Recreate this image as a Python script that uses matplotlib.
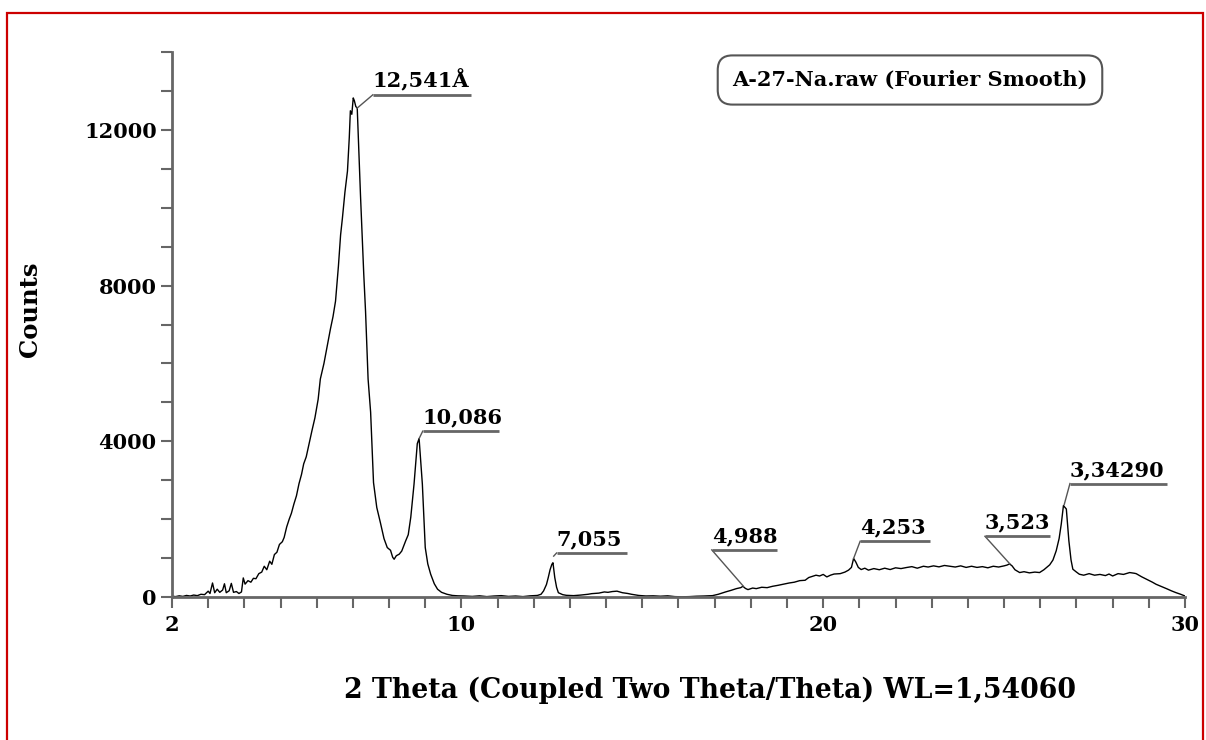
import matplotlib
matplotlib.use("Agg")
import matplotlib.pyplot as plt
from matplotlib.patches import Rectangle

# difractograma (2theta, contagens)
two_theta = [2.0, 2.1, 2.2, 2.3, 2.4, 2.5, 2.6, 2.7, 2.8, 2.9, 3.0, 3.05, 3.12, 3.18, 3.25,
             3.32, 3.4, 3.45, 3.5, 3.58, 3.64, 3.7, 3.78, 3.85, 3.92, 3.97, 4.02, 4.1, 4.18,
             4.25, 4.32, 4.4, 4.48, 4.55, 4.62, 4.7, 4.76, 4.83, 4.9, 4.97, 5.05, 5.1, 5.17,
             5.24, 5.3, 5.37, 5.44, 5.51, 5.58, 5.64, 5.71, 5.78, 5.87, 5.95, 6.04, 6.1, 6.2,
             6.3, 6.38, 6.45, 6.52, 6.6, 6.66, 6.71, 6.78, 6.85, 6.9, 6.93, 6.97, 7.01, 7.04,
             7.08, 7.12, 7.21, 7.3, 7.35, 7.42, 7.49, 7.57, 7.66, 7.76, 7.86, 7.95, 8.04, 8.1,
             8.14, 8.2, 8.28, 8.35, 8.46, 8.53, 8.6, 8.69, 8.78, 8.83, 8.92, 9.0, 9.07, 9.15,
             9.25, 9.34, 9.45, 9.6, 9.75, 9.9, 10.07, 10.3, 10.5, 10.7, 10.9, 11.1, 11.3, 11.5,
             11.7, 11.9, 12.1, 12.2, 12.27, 12.35, 12.4, 12.45, 12.5, 12.53, 12.58, 12.63, 12.68,
             12.8, 12.9, 13.1, 13.3, 13.5, 13.6, 13.8, 13.95, 14.05, 14.17, 14.3, 14.45, 14.6,
             14.7, 14.9, 15.1, 15.3, 15.5, 15.7, 15.9, 16.1, 16.3, 16.5, 16.7, 16.94, 17.1, 17.3,
             17.45, 17.6, 17.72, 17.78, 17.85, 17.92, 18.05, 18.15, 18.3, 18.45, 18.6, 18.75,
             18.9, 19.06, 19.2, 19.35, 19.5, 19.6, 19.7, 19.8, 19.9, 20.0, 20.1, 20.2, 20.3,
             20.47, 20.6, 20.7, 20.78, 20.84, 20.9, 20.97, 21.05, 21.15, 21.25, 21.4, 21.55,
             21.7, 21.85, 22.0, 22.15, 22.3, 22.45, 22.6, 22.77, 22.9, 23.05, 23.2, 23.35, 23.5,
             23.65, 23.8, 23.95, 24.1, 24.25, 24.4, 24.55, 24.7, 24.85, 25.0, 25.08, 25.15,
             25.22, 25.3, 25.43, 25.55, 25.7, 25.85, 25.98, 26.1, 26.26, 26.35, 26.44, 26.52,
             26.58, 26.64, 26.72, 26.79, 26.85, 26.9, 27.0, 27.08, 27.2, 27.35, 27.5, 27.65,
             27.8, 27.9, 28.0, 28.15, 28.3, 28.47, 28.6, 28.65, 28.8, 28.95, 29.1, 29.2, 29.35,
             29.5, 29.62, 29.75, 29.88, 30.0]
counts = [20, 10, 30, 15, 40, 25, 50, 35, 70, 60, 150, 90, 360, 110, 200,
          120, 180, 340, 110, 160, 350, 120, 140, 90, 130, 490, 330, 420, 380,
          480, 470, 600, 640, 790, 700, 920, 840, 1090, 1150, 1350, 1420, 1530, 1800,
          2000, 2150, 2390, 2600, 2910, 3150, 3420, 3600, 3900, 4280, 4600, 5080, 5600, 6000,
          6500, 6890, 7200, 7600, 8500, 9300, 9730, 10400, 10940, 11800, 12490, 12400, 12820, 12750,
          12600, 12560, 10320, 8300, 7330, 5600, 4750, 2940, 2300, 1910, 1500, 1270, 1200, 1020,
          970, 1060, 1100, 1180, 1445, 1600, 2050, 2900, 3940, 4070, 2900, 1270, 850, 585,
          340, 200, 120, 70, 40, 30, 26, 15, 30, 10, 25, 35, 15, 25,
          10, 30, 40, 70, 155, 320, 500, 700, 840, 880, 500, 250, 110,
          60, 43, 35, 50, 70, 86, 100, 130, 120, 140, 150, 110, 90,
          70, 40, 26, 30, 20, 30, 10, 5, 10, 20, 25, 35, 70, 130,
          170, 215, 240, 275, 220, 190, 230, 215, 250, 240, 275, 300,
          330, 360, 380, 420, 430, 500, 530, 560, 540, 580, 516, 560, 590,
          600, 640, 690, 760, 990, 900, 760, 705, 740, 690, 730, 700,
          740, 705, 750, 730, 757, 780, 740, 790, 770, 800, 774, 810, 790,
          770, 800, 760, 790, 760, 780, 750, 790, 770, 800, 820, 850,
          800, 700, 628, 650, 620, 640, 628, 700, 826, 950, 1187, 1500,
          1875, 2348, 2260, 1445, 950, 714, 640, 585, 560, 600, 560, 580,
          550, 590, 540, 600, 580, 628, 610, 600, 520, 450, 380, 327, 270,
          210, 160, 112, 70, 26]

# picos identificados (d em angstrom)
peak_labels = ["12,541\u00c5", "10,086", "7,055", "4,988", "4,253", "3,523", "3,34290"]
peak_x = [7.12, 8.83, 12.55, 17.79, 20.84, 25.16, 26.66]
peak_y = [12560, 4070, 1050, 280, 990, 850, 2370]
shelf_x0 = [7.55, 8.93, 12.63, 16.92, 21.02, 24.47, 26.82]
shelf_x1 = [10.26, 11.05, 14.57, 18.71, 22.95, 26.27, 29.51]
shelf_y = [12900, 4260, 1130, 1210, 1430, 1560, 2915]

fonte = "DejaVu Serif"

fig = plt.figure(figsize=(12.06, 7.4), dpi=100)
ax = fig.add_axes([172/1206, 143/740, 1013/1206, 545/740])

ax.plot(two_theta, counts, color="black", lw=1.0)

for i in range(len(peak_labels)):
    # linha guia ate o patamar e o patamar horizontal
    ax.plot([peak_x[i], shelf_x0[i]], [peak_y[i], shelf_y[i]], color="#555555", lw=1.0)
    ax.plot([shelf_x0[i], shelf_x1[i]], [shelf_y[i], shelf_y[i]], color="#666666", lw=2.0,
            solid_capstyle="butt")
    ax.text(shelf_x0[i], shelf_y[i] + 90, peak_labels[i], ha="left", va="bottom",
            fontsize=15, fontweight="bold", family=fonte)

ax.set_xlim(2, 30)
ax.set_ylim(0, 14000)
ax.set_xticks(range(2, 31))
ax.set_xticklabels([str(v) if v in (2, 10, 20, 30) else "" for v in range(2, 31)])
ax.set_yticks(range(0, 14001, 1000))
ax.set_yticklabels([str(v) if v % 4000 == 0 else "" for v in range(0, 14001, 1000)])

for s in ["top", "right"]:
    ax.spines[s].set_visible(False)
for s in ["left", "bottom"]:
    ax.spines[s].set_color("#666666")
    ax.spines[s].set_linewidth(2)
ax.tick_params(axis="both", direction="out", length=8, width=1.5, color="#666666")
ax.tick_params(axis="y", pad=3)
ax.tick_params(axis="x", pad=5)
for lab in ax.get_xticklabels() + ax.get_yticklabels():
    lab.set_fontfamily(fonte)
    lab.set_fontweight("bold")
    lab.set_fontsize(15)

fig.text(30/1206, 1 - 309/740, "Counts", rotation=90, ha="center", va="center",
         fontsize=17.5, fontweight="bold", family=fonte)
fig.text(710/1206, 1 - 690/740, "2 Theta (Coupled Two Theta/Theta) WL=1,54060",
         ha="center", va="center", fontsize=19.3, fontweight="bold", family=fonte)
fig.text(910/1206, 1 - 80/740, "A-27-Na.raw (Fourier Smooth)", ha="center", va="center",
         fontsize=15, fontweight="bold", family=fonte,
         bbox=dict(boxstyle="round,pad=0.7", fc="white", ec="#555555", lw=1.5))

# moldura vermelha
fig.patches.append(Rectangle((7/1206, -0.05), 1196/1206, 1.05 - 13/740,
                             transform=fig.transFigure, fill=False, ec="#cc0000", lw=1.6))

plt.savefig("out.png", dpi=100)
